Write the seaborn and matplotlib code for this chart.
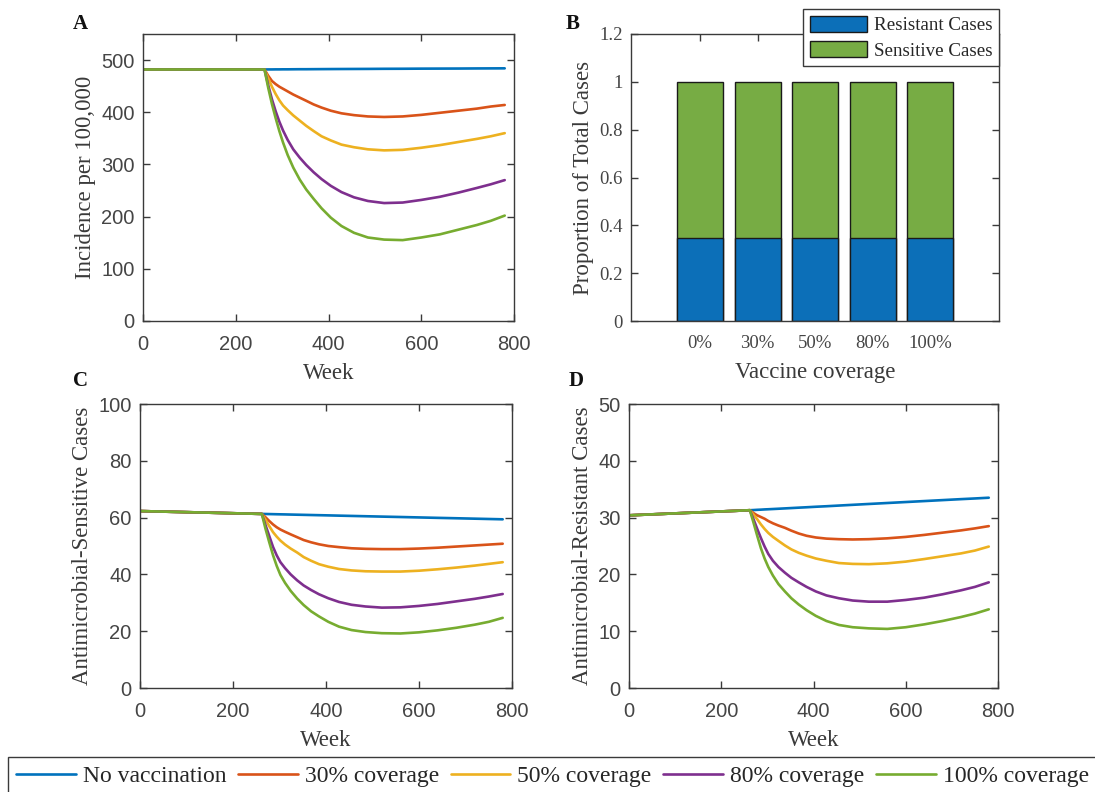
import numpy as np
import pandas as pd
import matplotlib
matplotlib.use("Agg")
import matplotlib.pyplot as plt
import seaborn as sns
from matplotlib.lines import Line2D
from matplotlib.patches import Patch

# ---------------- data ----------------
weeks = [0, 262, 270, 278, 286, 294, 302, 312, 324, 338, 352, 368, 385, 405, 428,
         455, 485, 520, 560, 600, 640, 680, 720, 750, 780]
scenarios = ["No vaccination", "30% coverage", "50% coverage", "80% coverage", "100% coverage"]
line_colors = ["#0072BD", "#D95319", "#EDB120", "#7E2F8E", "#77AC30"]

# Panel A: incidence per 100,000
incidence_none = [482, 482, 482.1, 482.1, 482.2, 482.2, 482.3, 482.3, 482.4, 482.5, 482.5, 482.6,
                  482.7, 482.8, 482.9, 483.0, 483.1, 483.3, 483.4, 483.6, 483.7, 483.8, 484.0, 484.1, 484.2]
incidence_30 = [482, 482, 470, 460, 454, 449, 445, 440, 434, 428, 422, 415, 409, 403, 398,
                394.5, 392, 391, 392, 395, 399, 403, 407, 411, 414]
incidence_50 = [482, 482, 465, 449, 435, 423, 413, 404, 394, 384, 374, 364, 354, 346, 338,
                333, 329, 327, 328, 332, 337, 343, 349, 354, 360]
incidence_80 = [482, 482, 452, 425, 402, 382, 365, 347, 329, 313, 299, 285, 272, 259, 247,
                237, 230, 226, 227, 232, 238, 246, 255, 262, 270]
incidence_100 = [482, 482, 447, 416, 389, 364, 342, 318, 294, 271, 252, 234, 216, 198, 182,
                 169, 160, 156, 155, 160, 166, 175, 184, 192, 202]

# Panel C: antimicrobial-sensitive cases
sensitive_none = [62.3, 61.3, 61.27, 61.24, 61.21, 61.18, 61.15, 61.12, 61.07, 61.02, 60.97, 60.91,
                  60.85, 60.78, 60.69, 60.59, 60.48, 60.35, 60.21, 60.06, 59.91, 59.77, 59.62, 59.51, 59.4]
sensitive_30 = [62.3, 61.3, 60.1, 58.8, 57.6, 56.6, 55.8, 55.0, 54.1, 53.1, 52.1, 51.3, 50.6, 50.0, 49.6,
                49.2, 49.0, 48.9, 48.9, 49.1, 49.4, 49.8, 50.2, 50.5, 50.8]
sensitive_50 = [62.3, 61.3, 59.2, 57.0, 54.9, 53.3, 51.9, 50.5, 49.1, 47.7, 46.1, 44.8, 43.6, 42.7, 41.9,
                41.4, 41.1, 41.0, 41.0, 41.3, 41.8, 42.4, 43.1, 43.7, 44.3]
sensitive_80 = [62.3, 61.3, 57.3, 53.5, 49.7, 46.7, 44.3, 42.2, 40.0, 37.9, 36.1, 34.5, 33.0, 31.6, 30.3,
                29.3, 28.7, 28.3, 28.4, 28.9, 29.6, 30.5, 31.4, 32.2, 33.1]
sensitive_100 = [62.3, 61.3, 56.0, 51.3, 46.8, 43.0, 39.8, 37.0, 34.2, 31.5, 29.2, 27.0, 25.2, 23.3, 21.6,
                 20.4, 19.7, 19.3, 19.2, 19.6, 20.3, 21.2, 22.3, 23.3, 24.7]

# Panel D: antimicrobial-resistant cases
resistant_none = [30.4, 31.3, 31.33, 31.37, 31.4, 31.44, 31.47, 31.51, 31.56, 31.62, 31.68, 31.75,
                  31.82, 31.91, 32.0, 32.12, 32.25, 32.4, 32.57, 32.74, 32.91, 33.08, 33.25, 33.37, 33.5]
resistant_30 = [30.4, 31.3, 30.8, 30.4, 30.1, 29.8, 29.4, 29.0, 28.6, 28.2, 27.7, 27.2, 26.8, 26.5, 26.3,
                26.2, 26.15, 26.2, 26.35, 26.6, 26.95, 27.35, 27.75, 28.1, 28.5]
resistant_50 = [30.4, 31.3, 30.5, 29.7, 28.8, 28.0, 27.3, 26.6, 25.9, 25.1, 24.4, 23.8, 23.3, 22.8, 22.4,
                22.0, 21.85, 21.8, 21.95, 22.25, 22.7, 23.2, 23.7, 24.2, 24.9]
resistant_80 = [30.4, 31.3, 29.7, 28.0, 26.4, 24.9, 23.6, 22.4, 21.3, 20.3, 19.4, 18.6, 17.8, 17.0, 16.3,
                15.8, 15.4, 15.2, 15.2, 15.5, 15.9, 16.5, 17.2, 17.8, 18.6]
resistant_100 = [30.4, 31.3, 29.1, 26.8, 24.6, 22.8, 21.3, 19.8, 18.3, 17.0, 15.8, 14.7, 13.7, 12.7, 11.8,
                 11.1, 10.7, 10.5, 10.4, 10.7, 11.2, 11.8, 12.5, 13.1, 13.85]

# Panel B: proportions
coverage_labels = ["0%", "30%", "50%", "80%", "100%"]
resistant_prop = [0.348, 0.348, 0.348, 0.348, 0.348]
sensitive_prop = [0.652, 0.652, 0.652, 0.652, 0.652]

# ---------------- style ----------------
sns.set_style("ticks")
SERIF = ["Liberation Serif", "DejaVu Serif"]
SANS = ["Liberation Sans", "DejaVu Sans"]
plt.rcParams["font.family"] = SERIF
AX_COLOR = "#3a3a3a"
TICK_TXT = "#454545"


def long_df(series_list):
    rows = []
    for name, vals in zip(scenarios, series_list):
        for w, v in zip(weeks, vals):
            rows.append({"Week": w, "value": v, "scenario": name})
    return pd.DataFrame(rows)


fig = plt.figure(figsize=(10.95, 7.92), dpi=100)
W, H = 1095.0, 792.0


def axes_px(left, right, top, bottom):
    return fig.add_axes([left / W, (H - bottom) / H, (right - left) / W, (bottom - top) / H])


axA = axes_px(143, 514, 34, 321)
axB = axes_px(631, 999, 34, 321)
axC = axes_px(140, 512, 404, 688)
axD = axes_px(629, 998, 404, 688)


def style_axes(ax, tick_family):
    for s in ax.spines.values():
        s.set_visible(True)
        s.set_color(AX_COLOR)
        s.set_linewidth(1.0)
    ax.tick_params(direction="in", top=True, right=True, length=5, width=1.0,
                   color=AX_COLOR, labelcolor=TICK_TXT)
    ax.tick_params(axis="y", pad=6)
    for lab in ax.get_xticklabels() + ax.get_yticklabels():
        lab.set_family(tick_family)


line_panels = [
    (axA, [incidence_none, incidence_30, incidence_50, incidence_80, incidence_100],
     "Incidence per 100,000", (0, 550), np.arange(0, 501, 100)),
    (axC, [sensitive_none, sensitive_30, sensitive_50, sensitive_80, sensitive_100],
     "Antimicrobial-Sensitive Cases", (0, 100), np.arange(0, 101, 20)),
    (axD, [resistant_none, resistant_30, resistant_50, resistant_80, resistant_100],
     "Antimicrobial-Resistant Cases", (0, 50), np.arange(0, 51, 10)),
]

for ax, series, ylabel, ylim, yticks in line_panels:
    df = long_df(series)
    sns.lineplot(data=df, x="Week", y="value", hue="scenario", hue_order=scenarios,
                 palette=line_colors, linewidth=1.9, errorbar=None, legend=False, ax=ax)
    ax.set_xlim(0, 800)
    ax.set_ylim(*ylim)
    ax.set_xticks(np.arange(0, 801, 200))
    ax.set_yticks(yticks)
    ax.set_xlabel("Week", fontsize=16.5, family=SERIF, color=AX_COLOR, labelpad=6.5)
    ax.set_ylabel(ylabel, fontsize=16.5, family=SERIF, color=AX_COLOR, labelpad=4)
    ax.tick_params(labelsize=14.5)
    style_axes(ax, SANS)
    ax.tick_params(axis="x", pad=10)

# ---------------- panel B: stacked proportions ----------------
bar_blue = "#0C6FB8"
bar_green = "#77AC44"
df_b = pd.DataFrame({
    "coverage": coverage_labels,
    "total": [r + s for r, s in zip(resistant_prop, sensitive_prop)],
    "resistant": resistant_prop,
})
sns.barplot(data=df_b, x="coverage", y="total", order=coverage_labels, color=bar_green,
            saturation=1, edgecolor="#1a1a1a", linewidth=1.0, width=0.8, ax=axB)
sns.barplot(data=df_b, x="coverage", y="resistant", order=coverage_labels, color=bar_blue,
            saturation=1, edgecolor="#1a1a1a", linewidth=1.0, width=0.8, ax=axB)
axB.set_xlim(-1.2, 5.2)
axB.set_ylim(0, 1.2)
axB.set_yticks([0, 0.2, 0.4, 0.6, 0.8, 1.0, 1.2])
axB.set_yticklabels(["0", "0.2", "0.4", "0.6", "0.8", "1", "1.2"])
axB.set_xlabel("Vaccine coverage", fontsize=16.5, family=SERIF, color=AX_COLOR, labelpad=7)
axB.set_ylabel("Proportion of Total Cases", fontsize=16.5, family=SERIF, color=AX_COLOR, labelpad=4)
axB.tick_params(labelsize=13.5)
style_axes(axB, SERIF)
axB.tick_params(axis="x", pad=10)

leg_b = fig.legend(
    handles=[Patch(facecolor=bar_blue, edgecolor="#1a1a1a", label="Resistant Cases"),
             Patch(facecolor=bar_green, edgecolor="#1a1a1a", label="Sensitive Cases")],
    loc="upper right", bbox_to_anchor=(999 / W, (H - 9) / H),
    prop={"family": SERIF, "size": 13.7}, frameon=True, fancybox=False, framealpha=1,
    edgecolor=AX_COLOR, handlelength=3.0, handleheight=0.95, handletextpad=0.35,
    labelspacing=0.35, borderpad=0.35, borderaxespad=0)
leg_b.get_frame().set_linewidth(1.0)

# ---------------- bottom legend ----------------
handles = [Line2D([0], [0], color=c, linewidth=1.9, label=s) for c, s in zip(line_colors, scenarios)]
leg = fig.legend(handles=handles, loc="center left", bbox_to_anchor=(8 / W, (H - 776) / H),
                 ncol=5, prop={"family": SERIF, "size": 17}, frameon=True, fancybox=False,
                 framealpha=1, edgecolor=AX_COLOR, handlelength=2.52, handletextpad=0.3,
                 columnspacing=0.5, borderpad=0.35, borderaxespad=0)
leg.get_frame().set_linewidth(1.0)

# ---------------- panel letters ----------------
for letter, x, y in [("A", 80, 24), ("B", 573, 24), ("C", 80, 381), ("D", 576, 381)]:
    fig.text(x / W, (H - y) / H, letter, ha="center", va="center", fontsize=15,
             fontweight="bold", family=SERIF, color="#111111")

fig.savefig("out.png", dpi=100)
